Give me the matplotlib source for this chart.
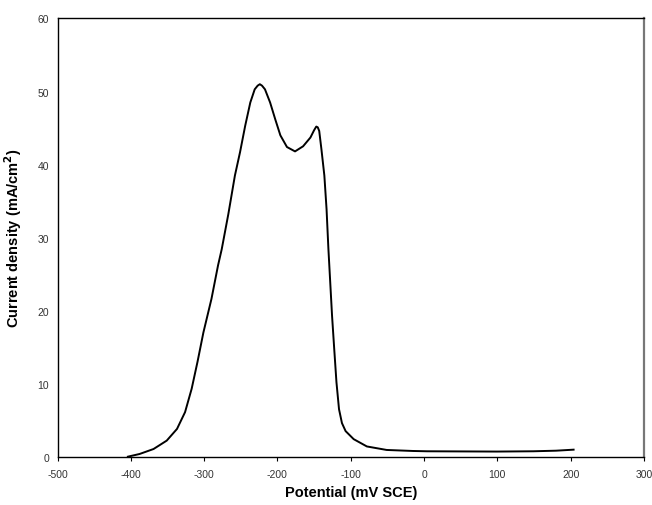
import matplotlib
matplotlib.use("Agg")
import matplotlib.pyplot as plt

# potential (mV SCE) and current density (mA/cm2)
potential = [-404, -388, -369, -351, -337, -326, -317, -309, -301, -290,
             -281, -276, -267, -258, -251, -244, -237, -231, -227, -224,
             -221, -217, -210, -203, -196, -187, -176, -165, -155, -150,
             -147, -145, -143, -140, -136, -133, -130.5, -128, -125.5, -122.5,
             -119.5, -116, -112, -107, -96, -78, -51, -15, 4, 50,
             99, 149, 180, 204]
current = [0.0, 0.37, 1.05, 2.2, 3.8, 6.1, 9.3, 13.0, 17.0, 21.6,
           26.2, 28.4, 33.2, 38.5, 41.7, 45.3, 48.5, 50.3, 50.8, 51.0,
           50.8, 50.3, 48.5, 46.2, 44.0, 42.4, 41.8, 42.5, 43.7, 44.7,
           45.2, 45.1, 44.6, 42.1, 38.5, 33.9, 28.5, 23.9, 19.3, 14.7,
           10.2, 6.5, 4.6, 3.5, 2.4, 1.4, 0.92, 0.78, 0.74, 0.72,
           0.7, 0.74, 0.82, 0.96]

plt.rcParams["font.family"] = ["Liberation Sans", "DejaVu Sans"]
plt.rcParams["axes.unicode_minus"] = False

fig = plt.figure(figsize=(6.52, 5.06), dpi=100)
ax = fig.add_axes([0.0882, 0.0955, 0.8995, 0.866])

ax.plot(potential, current, color="black", linewidth=1.4,
        solid_joinstyle="round")

ax.set_xlim(-500, 300)
ax.set_ylim(0, 60)
ax.set_xticks(range(-500, 301, 100))
ax.set_yticks(range(0, 61, 10))
ax.tick_params(axis="both", labelsize=7.5, labelcolor="#333333", length=3,
               width=0.8, direction="out", pad=6)
ax.tick_params(axis="y", length=0)
for s in ax.spines.values():
    s.set_linewidth(1.0)
ax.spines["right"].set_color("#777777")
ax.spines["right"].set_linewidth(1.6)

ax.set_xlabel("Potential (mV SCE)", fontsize=10.5, fontweight="bold", labelpad=4)
ax.set_ylabel("Current density (mA/cm$^\\mathbf{2}$)", fontsize=10.5,
              fontweight="bold", labelpad=10)

fig.savefig("out.png", dpi=100)
